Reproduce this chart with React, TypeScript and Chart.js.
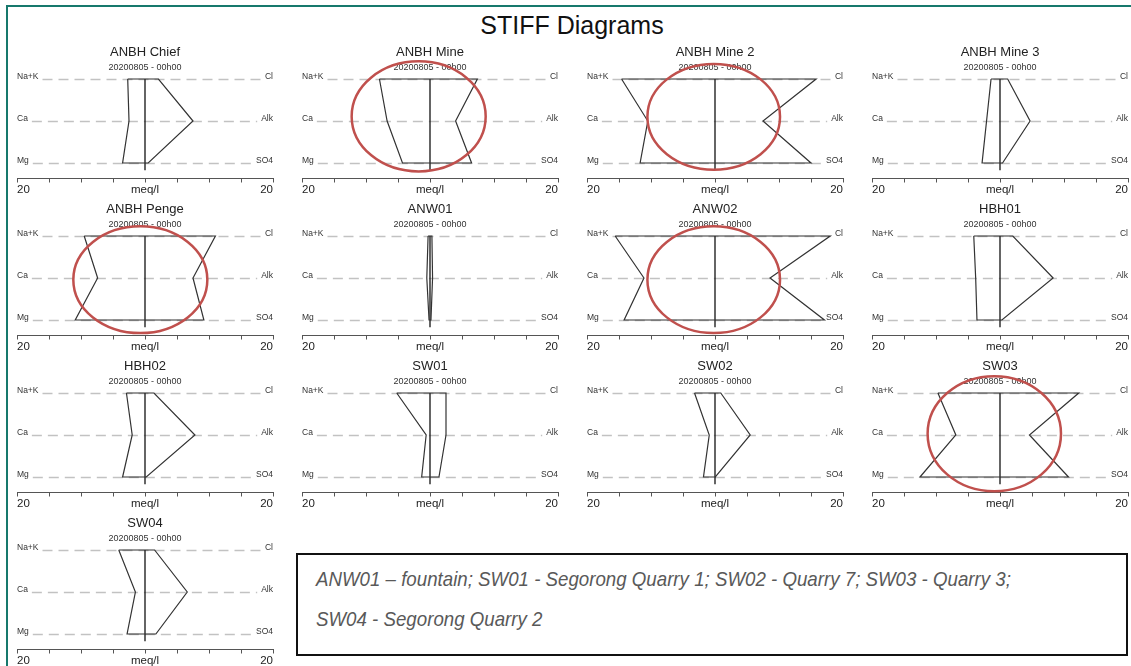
import { useEffect, useRef } from 'react';
import { Chart, registerables } from 'chart.js';

Chart.register(...registerables);

// Sample points, one Stiff diagram each (values in meq/l)
const SITES = [
  'ANBH Chief', 'ANBH Mine', 'ANBH Mine 2', 'ANBH Mine 3',
  'ANBH Penge', 'ANW01', 'ANW02', 'HBH01',
  'HBH02', 'SW01', 'SW02', 'SW03',
  'SW04',
];
const SAMPLE_TIME = '20200805 - 00h00';

// Cations (left of the zero line)
const NA_K = [2.7, 7.9, 14.6, 1.4, 9.5, 0.3, 15.6, 4.1, 2.9, 5.2, 3.2, 9.7, 4.1];
const CA = [2.5, 6.7, 10.5, 2.1, 7.4, 0.5, 11.1, 3.8, 2.0, 0.6, 0.9, 6.9, 1.5];
const MG = [3.5, 4.3, 11.7, 2.8, 10.9, 0.15, 14.2, 3.6, 3.5, 1.3, 1.8, 12.5, 2.8];
// Anions (right of the zero line)
const CL = [2.1, 7.4, 15.8, 1.2, 11.0, 0.3, 18.0, 2.0, 1.4, 2.5, 0.9, 12.3, 1.5];
const ALK = [7.5, 4.0, 7.5, 4.7, 7.5, 0.4, 8.6, 8.3, 7.8, 2.5, 5.5, 4.6, 6.6];
const SO4 = [0.5, 6.5, 15.0, 0.4, 9.2, 0.15, 17.1, 0.3, 0.2, 1.4, 0.05, 10.7, 1.7];

const CATION_LABELS = ['Na+K', 'Ca', 'Mg'];
const ANION_LABELS = ['Cl', 'Alk', 'SO4'];
const AXIS_LIMIT = 20;
const AXIS_STEP = 5;
const AXIS_UNIT = 'meq/l';

const DIAGRAM_TITLE = 'STIFF Diagrams';
const NOTE_LINES = [
  'ANW01 \u2013 fountain; SW01 - Segorong Quarry 1; SW02 - Quarry 7; SW03 - Quarry 3;',
  'SW04 -  Segorong Quarry 2',
];

// Highlight rings (centre/radii in meq/l horizontally, ion rows vertically)
const RINGS: Record<string, { cx: number; cy: number; rx: number; ry: number }> = {
  'ANBH Mine': { cx: -1.77, cy: 0.89, rx: 10.47, ry: 1.31 },
  'ANBH Mine 2': { cx: -0.2, cy: 0.9, rx: 10.36, ry: 1.26 },
  'ANBH Penge': { cx: -0.73, cy: 1.04, rx: 10.47, ry: 1.27 },
  'ANW02': { cx: -0.2, cy: 1.04, rx: 10.36, ry: 1.27 },
  'SW03': { cx: -0.89, cy: 0.97, rx: 10.42, ry: 1.37 },
};

// Grid layout of the small multiples
const COLS = 4;
const COL_STEP = 285;
const ROW_STEP = 157;
const PLOT_LEFT = 17;
const FIRST_TOP = 39;
const PLOT_W = 256;
const PAD_X = 12;
const CANVAS_W = PLOT_W + PAD_X * 2;
const CANVAS_H = 160;

const FONT = '"Liberation Sans", Arial, sans-serif';

const stiffDecor = {
  id: 'stiffDecor',
  beforeDatasetsDraw(chart: any) {
    const { ctx, scales } = chart;
    const x = scales.x;
    const y = scales.y;
    const left = x.getPixelForValue(-AXIS_LIMIT);
    const right = x.getPixelForValue(AXIS_LIMIT);
    ctx.save();
    ctx.font = `8.5px ${FONT}`;
    CATION_LABELS.forEach((cat, i) => {
      const an = ANION_LABELS[i];
      const py = Math.round(y.getPixelForValue(i)) + 0.5;
      const wl = ctx.measureText(cat).width;
      const wr = ctx.measureText(an).width;
      ctx.fillStyle = '#333';
      ctx.textBaseline = 'alphabetic';
      ctx.textAlign = 'left';
      ctx.fillText(cat, left, py - 1);
      ctx.textAlign = 'right';
      ctx.fillText(an, right, py - 1);
      ctx.strokeStyle = '#c2c2c2';
      ctx.lineWidth = 1.3;
      ctx.setLineDash([10, 6]);
      ctx.beginPath();
      ctx.moveTo(left + wl + 4, py);
      ctx.lineTo(right - wr - 4, py);
      ctx.stroke();
    });
    ctx.restore();
  },
  afterDraw(chart: any, _args: any, opts: any) {
    const ring = opts && opts.ring;
    if (!ring) return;
    const { ctx, scales } = chart;
    const x = scales.x;
    const y = scales.y;
    const cx = x.getPixelForValue(ring.cx);
    const cy = y.getPixelForValue(ring.cy);
    const rx = Math.abs(x.getPixelForValue(ring.cx + ring.rx) - cx);
    const ry = Math.abs(y.getPixelForValue(ring.cy + ring.ry) - cy);
    ctx.save();
    ctx.strokeStyle = '#c0504d';
    ctx.lineWidth = 2.5;
    ctx.beginPath();
    ctx.ellipse(cx, cy, rx, ry, 0, 0, Math.PI * 2);
    ctx.stroke();
    ctx.restore();
  },
};

function StiffPanel({ index }: { index: number }) {
  const ref = useRef<HTMLCanvasElement | null>(null);
  const name = SITES[index];
  const col = index % COLS;
  const row = Math.floor(index / COLS);

  useEffect(() => {
    if (!ref.current) return;
    const polygon = [
      { x: -NA_K[index], y: 0 },
      { x: CL[index], y: 0 },
      { x: ALK[index], y: 1 },
      { x: SO4[index], y: 2 },
      { x: -MG[index], y: 2 },
      { x: -CA[index], y: 1 },
      { x: -NA_K[index], y: 0 },
    ];
    const chart = new Chart(ref.current, {
      type: 'scatter',
      data: {
        datasets: [
          {
            data: polygon,
            showLine: true,
            borderColor: '#333',
            borderWidth: 1.2,
            pointRadius: 0,
            fill: false,
            tension: 0,
          },
          {
            data: [
              { x: 0, y: 0 },
              { x: 0, y: 2.17 },
            ],
            showLine: true,
            borderColor: '#111',
            borderWidth: 1.3,
            pointRadius: 0,
          },
        ],
      },
      options: {
        animation: false,
        responsive: false,
        events: [],
        layout: { padding: { top: 6, left: PAD_X, right: PAD_X, bottom: 2.7 } },
        plugins: {
          legend: { display: false },
          tooltip: { enabled: false },
          title: {
            display: true,
            text: name,
            color: '#222',
            font: { size: 13, family: FONT, weight: 'normal' },
            padding: { top: 0, bottom: 2 },
          },
          subtitle: {
            display: true,
            text: SAMPLE_TIME,
            color: '#333',
            font: { size: 9, family: FONT },
            padding: { top: 0, bottom: 1.4 },
          },
          stiffDecor: { ring: RINGS[name] || null },
        } as any,
        scales: {
          x: {
            type: 'linear',
            min: -AXIS_LIMIT,
            max: AXIS_LIMIT,
            ticks: {
              stepSize: AXIS_STEP,
              autoSkip: false,
              maxRotation: 0,
              align: 'inner',
              padding: 0,
              color: '#222',
              font: { size: 11.5, family: FONT },
              callback: (v: any) => {
                const n = Number(v);
                if (n === 0) return AXIS_UNIT;
                if (Math.abs(n) === AXIS_LIMIT) return String(AXIS_LIMIT);
                return '';
              },
            },
            grid: { drawOnChartArea: false, drawTicks: true, tickLength: 4, color: '#555' },
            border: { display: true, color: '#555', width: 1 },
          },
          y: { type: 'linear', min: -0.1, max: 2.369, reverse: true, display: false },
        },
      },
      plugins: [stiffDecor],
    } as any);
    return () => chart.destroy();
  }, [index, name]);

  return (
    <canvas
      ref={ref}
      width={CANVAS_W}
      height={CANVAS_H}
      style={{
        position: 'absolute',
        left: PLOT_LEFT + col * COL_STEP - PAD_X,
        top: FIRST_TOP + row * ROW_STEP,
        width: CANVAS_W,
        height: CANVAS_H,
      }}
    />
  );
}

export default function App() {
  return (
    <div
      style={{
        position: 'absolute',
        left: 0,
        top: 0,
        width: 1131,
        height: 666,
        overflow: 'hidden',
        background: '#fff',
        fontFamily: FONT,
      }}
    >
      <div
        style={{
          position: 'absolute',
          left: 6,
          top: 5,
          width: 1200,
          height: 700,
          borderLeft: '2px solid #17786c',
          borderTop: '2px solid #17786c',
        }}
      />
      <div
        style={{
          position: 'absolute',
          left: 0,
          top: 10,
          width: 1144,
          textAlign: 'center',
          fontSize: 25,
          lineHeight: '30px',
          color: '#111',
        }}
      >
        {DIAGRAM_TITLE}
      </div>
      {SITES.map((_, i) => (
        <StiffPanel key={i} index={i} />
      ))}
      <div
        style={{
          position: 'absolute',
          left: 296,
          top: 553,
          width: 832,
          height: 103,
          boxSizing: 'border-box',
          border: '2px solid #111',
          paddingLeft: 18,
          paddingTop: 3.5,
          fontFamily: FONT,
          fontStyle: 'italic',
          fontSize: 21,
          lineHeight: '40px',
          color: '#595959',
          whiteSpace: 'nowrap',
        }}
      >
        {NOTE_LINES.map((t, i) => (
          <div key={i}>
            <span
              style={{
                display: 'inline-block',
                transform: 'scaleX(0.89)',
                transformOrigin: 'left center',
              }}
            >
              {t}
            </span>
          </div>
        ))}
      </div>
    </div>
  );
}
